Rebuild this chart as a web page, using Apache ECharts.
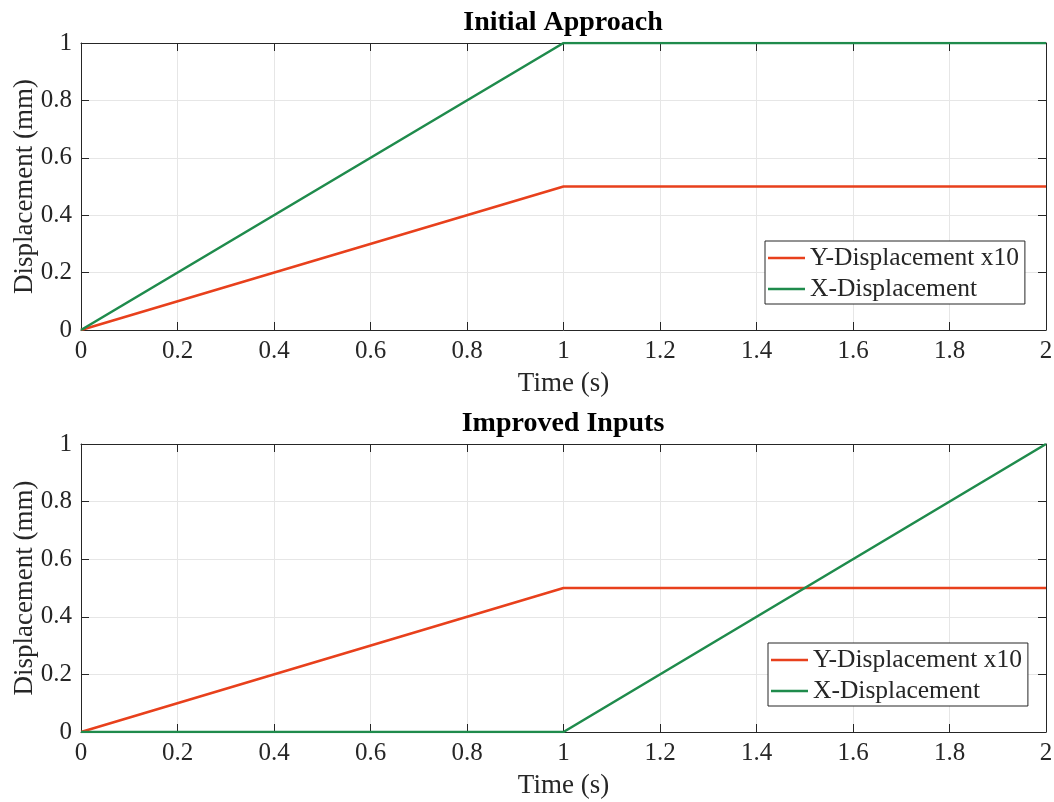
<!DOCTYPE html>
<html>
<head>
<meta charset="utf-8">
<script src="https://cdn.jsdelivr.net/npm/echarts@6/dist/echarts.min.js"></script>
<style>
html,body{margin:0;padding:0;background:#fff;}
#chart{width:1054px;height:802px;}
</style>
</head>
<body>
<div id="chart"></div>
<script>
// Time samples (s)
const time = [0, 1, 2];
// Initial approach
const initialY = [0, 0.5, 0.5];   // Y-displacement scaled x10
const initialX = [0, 1, 1];
// Improved inputs
const improvedY = [0, 0.5, 0.5];
const improvedX = [0, 0, 1];

const xTicks = [0, 0.2, 0.4, 0.6, 0.8, 1, 1.2, 1.4, 1.6, 1.8, 2];
const yTicks = [0, 0.2, 0.4, 0.6, 0.8, 1];
const titles = ['Initial Approach', 'Improved Inputs'];
const seriesNames = ['Y-Displacement x10', 'X-Displacement'];

const RED = '#E8401C';
const GREEN = '#1F8B4C';
const AXIS = '#262626';
const FONT = '"Liberation Serif", "Times New Roman", serif';

const pairs = (ys) => time.map((t, i) => [t, ys[i]]);
const fmt = v => String(+v.toFixed(1));

const grids = [
  { left: 81, right: 8, top: 43, height: 287, outerBoundsMode: 'none', containLabel: false },
  { left: 81, right: 8, top: 444, height: 288, outerBoundsMode: 'none', containLabel: false }
];

function xAxisFor(gi, pos) {
  const main = pos === 'bottom';
  return {
    type: 'value', gridIndex: gi, position: pos,
    min: xTicks[0], max: xTicks[xTicks.length - 1], interval: xTicks[1] - xTicks[0],
    name: main ? 'Time (s)' : '', nameLocation: 'middle', nameGap: 40,
    nameTextStyle: { fontFamily: FONT, fontSize: 27, color: '#262626' },
    axisLine: { show: true, onZero: false, lineStyle: { color: AXIS, width: 1 } },
    axisTick: { show: true, inside: true, length: 8, lineStyle: { color: AXIS } },
    axisLabel: { show: main, fontFamily: FONT, fontSize: 25, color: '#262626', margin: 9, formatter: fmt },
    splitLine: { show: main, lineStyle: { color: '#e6e6e6', width: 1 } }
  };
}
function yAxisFor(gi, pos) {
  const main = pos === 'left';
  return {
    type: 'value', gridIndex: gi, position: pos,
    min: yTicks[0], max: yTicks[yTicks.length - 1], interval: yTicks[1] - yTicks[0],
    name: main ? 'Displacement (mm)' : '', nameLocation: 'middle', nameGap: 43,
    nameMoveOverlap: false,
    nameTextStyle: { fontFamily: FONT, fontSize: 27, color: '#262626' },
    axisLine: { show: true, onZero: false, lineStyle: { color: AXIS, width: 1 } },
    axisTick: { show: true, inside: true, length: 8, lineStyle: { color: AXIS } },
    axisLabel: { show: main, fontFamily: FONT, fontSize: 25, color: '#262626', margin: 9, formatter: fmt },
    splitLine: { show: main, lineStyle: { color: '#e6e6e6', width: 1 } }
  };
}

const lineSeries = (name, color, data, gi) => ({
  name, type: 'line', data, xAxisIndex: gi * 2, yAxisIndex: gi * 2,
  showSymbol: false, symbol: 'none', animation: false,
  lineStyle: { color, width: 2.6 }, itemStyle: { color }
});

function legendFor(left, top) {
  return {
    orient: 'vertical', left, top,
    data: seriesNames,
    icon: 'rect', itemWidth: 37, itemHeight: 2.5, itemGap: 5,
    padding: [4, 6, 2, 3],
    borderColor: AXIS, borderWidth: 1, backgroundColor: '#fff',
    selectedMode: false,
    textStyle: { fontFamily: FONT, fontSize: 25.5, lineHeight: 26, color: '#262626' }
  };
}

const option = {
  backgroundColor: '#fff',
  animation: false,
  title: titles.map((t, i) => ({
    text: t, left: 563, top: i === 0 ? 9 : 410, textAlign: 'center', padding: 0,
    textStyle: { fontFamily: FONT, fontSize: 28, fontWeight: 'bold', color: '#000' }
  })),
  grid: grids,
  xAxis: [xAxisFor(0, 'bottom'), xAxisFor(0, 'top'), xAxisFor(1, 'bottom'), xAxisFor(1, 'top')],
  yAxis: [yAxisFor(0, 'left'), yAxisFor(0, 'right'), yAxisFor(1, 'left'), yAxisFor(1, 'right')],
  legend: [legendFor(765, 241), legendFor(768, 643)],
  series: [
    lineSeries(seriesNames[0], RED, pairs(initialY), 0),
    lineSeries(seriesNames[1], GREEN, pairs(initialX), 0),
    lineSeries(seriesNames[0], RED, pairs(improvedY), 1),
    lineSeries(seriesNames[1], GREEN, pairs(improvedX), 1)
  ]
};

echarts.init(document.getElementById('chart'), null, { renderer: 'canvas' }).setOption(option);
</script>
</body>
</html>
